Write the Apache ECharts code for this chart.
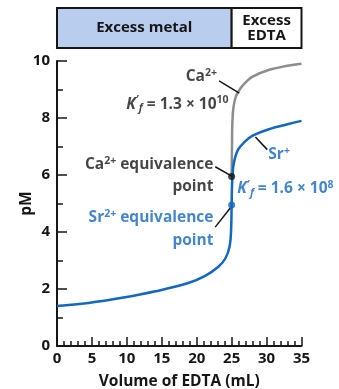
<!DOCTYPE html>
<html>
<head>
<meta charset="utf-8">
<script src="https://cdn.jsdelivr.net/npm/echarts@6/dist/echarts.min.js"></script>
<style>html,body{margin:0;padding:0;background:#fff;}#c{width:339px;height:389px;}</style>
</head>
<body>
<div id="c"></div>
<script>
// ---- data ----
const caCurve = [[25,5.95],[25.05,7.0],[25.1,7.8],[25.25,8.35],[25.6,8.75],[26.3,9.05],[27,9.25],[28,9.45],[30.5,9.7],[33,9.83],[35,9.9]];
const srCurve = [[0,1.40],[4.5,1.51],[9.3,1.69],[14.1,1.92],[18.8,2.21],[21.2,2.46],[23.1,2.78],[24.1,3.07],[24.7,3.48],[24.92,4.06],[25,4.95],[25.05,5.6],[25.15,6.1],[25.3,6.4],[25.6,6.7],[26,6.92],[26.7,7.12],[28,7.38],[30.5,7.62],[33,7.78],[35,7.9]];
const caEquivalence = [25, 5.95];
const srEquivalence = [25, 4.95];
const regionBounds = [0, 25, 35];
const regionLabels = ['Excess metal', 'Excess\nEDTA'];
const xTitle = 'Volume of EDTA (mL)';
const yTitle = 'pM';

const BLUE = '#1367c1', GRAY = '#8d8d8d', INK = '#161616', FILL = '#b9cdee';
const FONT = 'Open Sans';

const rich = (color) => ({
  b: {fontFamily: FONT, fontWeight: 'bold', fontSize: 15.5, color: color, lineHeight: 19},
  i: {fontFamily: FONT, fontWeight: 'bold', fontStyle: 'italic', fontSize: 15.5, color: color, lineHeight: 19},
  sup: {fontFamily: FONT, fontWeight: 'bold', fontSize: 10.5, color: color, lineHeight: 19, verticalAlign: 'top'},
  sub: {fontFamily: FONT, fontWeight: 'bold', fontStyle: 'italic', fontSize: 10.5, color: color, lineHeight: 19, verticalAlign: 'bottom'}
});

// annotation layout (data coordinates)
const notes = [
  {at: [22.9, 9.45], side: 'left', color: INK, text: '{b|Ca}{sup|2+}'},
  {at: [24.55, 8.48], side: 'left', color: INK, text: '{i|K}{sup|′}{sub|f}{b| = 1.3 × 10}{sup|10}'},
  {at: [22.4, 6.36], side: 'left', color: INK, text: '{b|Ca}{sup|2+}{b| equivalence}'},
  {at: [22.4, 5.58], side: 'left', color: INK, text: '{b|point}'},
  {at: [22.4, 4.49], side: 'left', color: BLUE, text: '{b|Sr}{sup|2+}{b| equivalence}'},
  {at: [22.4, 3.71], side: 'left', color: BLUE, text: '{b|point}'},
  {at: [30.25, 6.71], side: 'right', color: BLUE, text: '{b|Sr}{sup|+}'},
  {at: [25.8, 5.51], side: 'right', color: BLUE, text: '{i|K}{sup|′}{sub|f}{b| = 1.6 × 10}{sup|8}'}
];
const leaders = [
  {from: [23.2, 9.3], to: [26.1, 8.87], color: INK},
  {from: [22.65, 6.29], to: [24.95, 5.97], color: INK},
  {from: [22.65, 4.17], to: [24.8, 4.84], color: INK},
  {from: [28.4, 7.33], to: [30.1, 6.89], color: INK}
];

const chart = echarts.init(document.getElementById('c'), null, {renderer: 'canvas'});
const axisLabel = {fontFamily: FONT, fontWeight: 'bold', fontSize: 15, color: INK};

chart.setOption({
  animation: false,
  backgroundColor: '#fff',
  grid: [
    {left: 57, right: 37.5, top: 61, bottom: 43, containLabel: false, outerBoundsMode: 'none'},
    {left: 57, right: 37.5, top: 8, height: 40, containLabel: false, outerBoundsMode: 'none'}
  ],
  xAxis: [
    {type: 'value', min: 0, max: 35, interval: 5, gridIndex: 0,
     name: xTitle, nameLocation: 'middle', nameGap: 28, nameMoveOverlap: false,
     nameTextStyle: {fontFamily: FONT, fontWeight: 'bold', fontSize: 15.5, color: INK},
     axisLine: {lineStyle: {color: INK, width: 2}},
     axisTick: {inside: true, length: 9, lineStyle: {color: INK, width: 1.5}},
     minorTick: {show: true, splitNumber: 5, length: 5, lineStyle: {color: INK, width: 1.5}},
     axisLabel: Object.assign({margin: 5}, axisLabel),
     splitLine: {show: false}},
    {type: 'value', min: 0, max: 35, gridIndex: 1, show: false}
  ],
  yAxis: [
    {type: 'value', min: 0, max: 10, interval: 2, gridIndex: 0,
     name: yTitle, nameLocation: 'middle', nameGap: 22, nameMoveOverlap: false,
     nameTextStyle: {fontFamily: FONT, fontWeight: 'bold', fontSize: 15.5, color: INK},
     axisLine: {show: true, lineStyle: {color: INK, width: 2}},
     axisTick: {show: true, inside: true, length: 10, lineStyle: {color: INK, width: 1.5}},
     minorTick: {show: true, splitNumber: 2, length: 6, lineStyle: {color: INK, width: 1.5}},
     axisLabel: Object.assign({margin: 7}, axisLabel),
     splitLine: {show: false}},
    {type: 'value', min: 0, max: 1, gridIndex: 1, show: false}
  ],
  series: [
    {type: 'line', name: 'Ca2+', data: caCurve, showSymbol: false, smooth: 0.4,
     lineStyle: {color: GRAY, width: 2.5}, z: 2},
    {type: 'line', name: 'Sr2+', data: srCurve, showSymbol: false, smooth: 0.4,
     lineStyle: {color: BLUE, width: 2.5}, z: 3},
    {type: 'scatter', data: [{value: caEquivalence, itemStyle: {color: INK}}, {value: srEquivalence, itemStyle: {color: BLUE}}],
     symbolSize: 7, z: 5},
    {type: 'scatter', name: 'notes', symbolSize: 0, z: 6, silent: true,
     data: notes.map(n => ({value: n.at, label: {show: true, position: n.side, distance: 0,
        formatter: n.text, rich: rich(n.color)}})),
     markLine: {silent: true, symbol: 'none', animation: false, label: {show: false},
        lineStyle: {type: 'solid', width: 1.5},
        data: leaders.map(l => [{coord: l.from, lineStyle: {color: l.color, width: 1.5, type: 'solid'}}, {coord: l.to}])}},
    {type: 'line', xAxisIndex: 1, yAxisIndex: 1, data: [], silent: true,
     markArea: {silent: true,
       data: regionLabels.map((t, k) => [
         {xAxis: regionBounds[k], name: t,
          itemStyle: {color: k === 0 ? FILL : '#fff', borderColor: INK, borderWidth: 2},
          label: {show: true, position: 'inside', formatter: t, fontFamily: FONT, fontWeight: 'bold',
                  fontSize: 15, lineHeight: 15, color: INK, align: 'center'}},
         {xAxis: regionBounds[k + 1]}
       ])}}
  ]
});
</script>
</body>
</html>
